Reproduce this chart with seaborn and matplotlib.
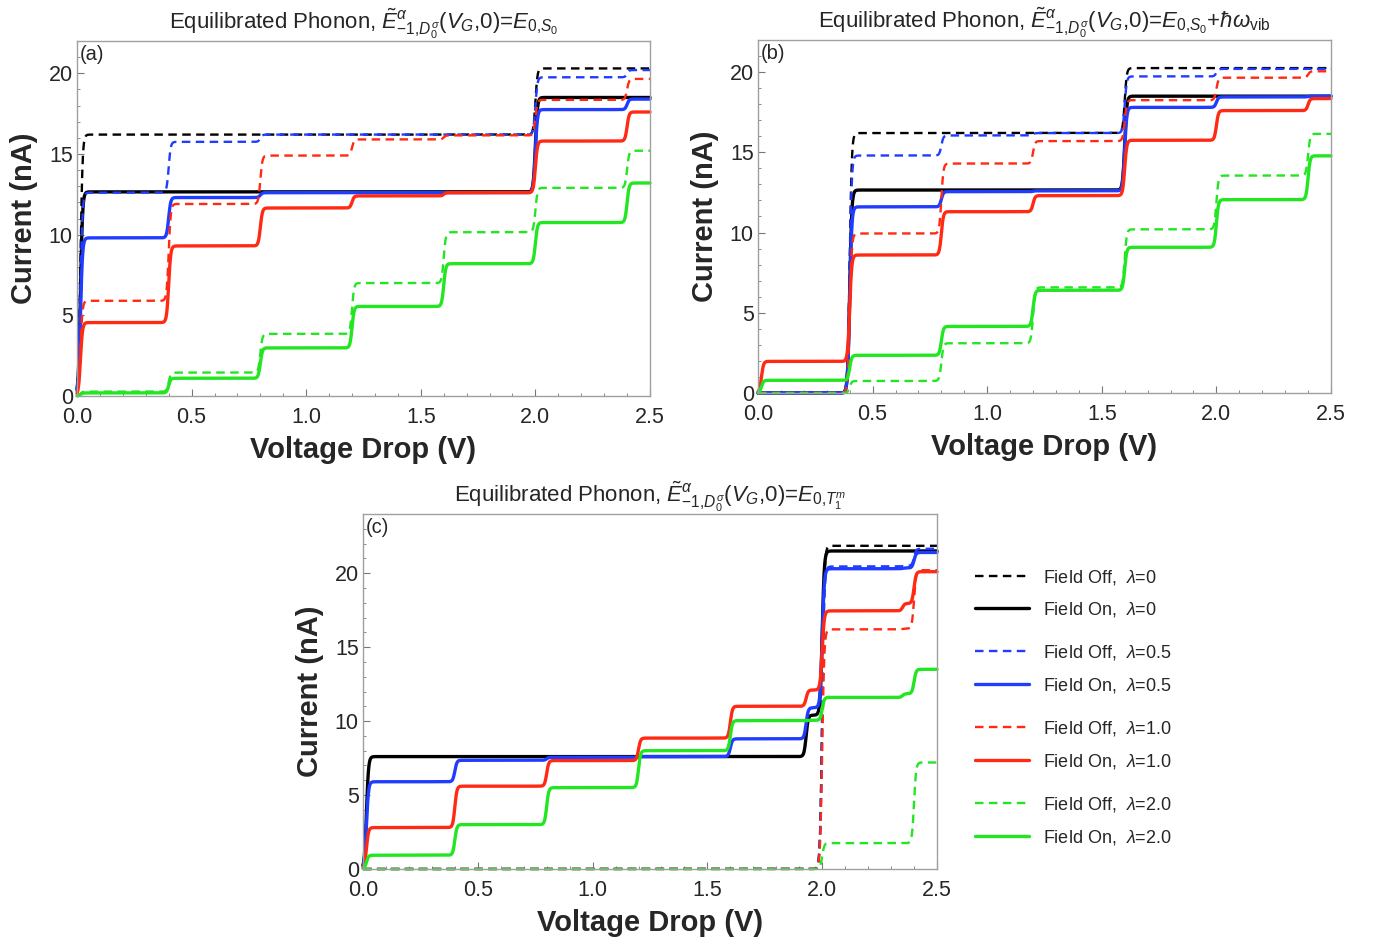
import numpy as np
import pandas as pd
import matplotlib
matplotlib.use("Agg")
import matplotlib.pyplot as plt
import seaborn as sns
from matplotlib.lines import Line2D
from matplotlib.ticker import MultipleLocator, FormatStrFormatter

# ---------------------------------------------------------------------------
# Bias thresholds (V) at which new transport channels open, per panel
STEPS_A = [0.015, 0.4, 0.8, 1.2, 1.6, 2.0, 2.4]
STEPS_B = [0.015, 0.4, 0.8, 1.2, 1.6, 2.0, 2.4]
STEPS_C = [0.015, 0.4, 0.8, 1.2, 1.6, 1.93, 2.0, 2.35, 2.4]

# Current plateau (nA) reached after each threshold
A_OFF_0 = [16.2, 16.2, 16.2, 16.2, 16.2, 20.3, 20.3]
A_ON_0 = [12.65, 12.65, 12.65, 12.65, 12.65, 18.5, 18.5]
A_OFF_05 = [12.6, 15.75, 16.2, 16.2, 16.2, 19.75, 20.2]
A_ON_05 = [9.8, 12.3, 12.6, 12.6, 12.6, 17.75, 18.4]
A_OFF_10 = [5.9, 11.9, 14.9, 15.9, 16.15, 18.35, 19.65]
A_ON_10 = [4.55, 9.3, 11.65, 12.4, 12.6, 15.8, 17.6]
A_OFF_20 = [0.27, 1.45, 3.85, 7.0, 10.15, 12.9, 15.2]
A_ON_20 = [0.19, 1.1, 2.98, 5.55, 8.2, 10.75, 13.2]

B_OFF_0 = [0.0, 16.2, 16.2, 16.2, 20.25, 20.25, 20.25]
B_ON_0 = [0.0, 12.65, 12.65, 12.65, 18.5, 18.5, 18.5]
B_OFF_05 = [0.0, 14.8, 16.05, 16.2, 19.73, 20.2, 20.2]
B_ON_05 = [0.0, 11.6, 12.55, 12.6, 17.8, 18.45, 18.5]
B_OFF_10 = [0.0, 9.94, 14.3, 15.7, 18.25, 19.65, 20.05]
B_ON_10 = [1.97, 8.6, 11.3, 12.3, 15.75, 17.6, 18.35]
B_OFF_20 = [0.0, 0.75, 3.1, 6.58, 10.2, 13.55, 16.15]
B_ON_20 = [0.79, 2.35, 4.15, 6.4, 9.08, 12.05, 14.78]

C_OFF_0 = [0.0, 0.0, 0.0, 0.0, 0.0, 0.0, 21.85, 21.85, 21.85]
C_ON_0 = [7.6, 7.6, 7.6, 7.6, 7.6, 10.4, 21.5, 21.5, 21.5]
C_OFF_05 = [0.0, 0.0, 0.0, 0.0, 0.0, 0.0, 20.45, 20.5, 21.65]
C_ON_05 = [5.9, 7.35, 7.55, 7.6, 8.8, 10.9, 20.3, 20.35, 21.4]
C_OFF_10 = [0.0, 0.0, 0.0, 0.0, 0.0, 0.0, 16.2, 16.25, 20.2]
C_ON_10 = [2.8, 5.6, 7.33, 8.85, 11.0, 12.1, 17.45, 17.95, 20.1]
C_OFF_20 = [0.0, 0.0, 0.0, 0.0, 0.0, 0.0, 1.75, 1.75, 7.2]
C_ON_20 = [0.93, 3.0, 5.5, 8.0, 10.03, 10.05, 11.6, 11.85, 13.5]

LAMBDAS = ["0", "0.5", "1.0", "2.0"]
FIELDS = ["Field Off", "Field On"]

TITLE_HEAD = r"Equilibrated Phonon, $\tilde{E}^{\alpha}_{-1{,}D_0^{\sigma}}(V_G{,}0)$="
TITLES = [
    TITLE_HEAD + r"$E_{0{,}S_0}$",
    TITLE_HEAD + r"$E_{0{,}S_0}$+$\hbar\omega_{\mathrm{vib}}$",
    TITLE_HEAD + r"$E_{0{,}T_1^m}$",
]
PANEL_TAGS = ["(a)", "(b)", "(c)"]
X_LABEL = "Voltage Drop (V)"
Y_LABEL = "Current (nA)"

PANELS = [
    (STEPS_A, [A_OFF_0, A_ON_0, A_OFF_05, A_ON_05, A_OFF_10, A_ON_10, A_OFF_20, A_ON_20]),
    (STEPS_B, [B_OFF_0, B_ON_0, B_OFF_05, B_ON_05, B_OFF_10, B_ON_10, B_OFF_20, B_ON_20]),
    (STEPS_C, [C_OFF_0, C_ON_0, C_OFF_05, C_ON_05, C_OFF_10, C_ON_10, C_OFF_20, C_ON_20]),
]
Y_MAX = [22, 22, 24]

# ---------------------------------------------------------------------------
sns.set_style("white")
plt.rcParams.update({
    "font.family": ["Liberation Sans", "DejaVu Sans"],
    "mathtext.fontset": "custom",
    "mathtext.rm": "Liberation Sans",
    "mathtext.it": "Liberation Sans:italic",
    "mathtext.bf": "Liberation Sans:bold",
    "mathtext.fallback": "stixsans",
})

COLORS = {"0": "#000000", "0.5": "#1f3cff", "1.0": "#ff2a14", "2.0": "#22e622"}
DASH = (3.6, 2.3)
LW = {"Field Off": 1.7, "Field On": 2.4}


def thermal_staircase(v, steps, levels, width=0.0045):
    """Sum of thermally broadened steps between successive plateaus."""
    inc = np.diff(np.concatenate([[0.0], levels]))
    out = np.zeros_like(v)
    for d, s in zip(inc, steps):
        out += d * 0.5 * (1.0 + np.tanh((v - s) / (2.0 * width)))
    return out


volt = np.linspace(0.0, 2.5, 2501)


def panel_frame(steps, series):
    rows = []
    for k, levels in enumerate(series):
        lam = LAMBDAS[k // 2]
        field = FIELDS[k % 2]
        cur = thermal_staircase(volt, steps, levels)
        rows.append(pd.DataFrame({"V": volt, "I": cur, "lam": lam, "field": field}))
    return pd.concat(rows, ignore_index=True)


W, H = 1385, 946
fig = plt.figure(figsize=(W / 100, H / 100), dpi=100)

# axes rectangles in pixels: left, top, right, bottom
boxes = [(77, 41, 650, 396), (758, 40, 1331, 393), (363, 514, 937, 869)]

for idx, ((steps, series), box) in enumerate(zip(PANELS, boxes)):
    l, t, r, b = box
    ax = fig.add_axes([l / W, 1 - b / H, (r - l) / W, (b - t) / H])
    df = panel_frame(steps, series)
    sns.lineplot(
        data=df, x="V", y="I", hue="lam", style="field", size="field",
        hue_order=LAMBDAS, style_order=FIELDS, size_order=FIELDS,
        palette=COLORS, dashes={"Field Off": DASH, "Field On": ""},
        sizes=LW, estimator=None, sort=False, legend=False, ax=ax,
    )
    for ln in ax.lines:
        ln.set_clip_on(False)
    ax.set_xlim(0, 2.5)
    ax.set_ylim(0, Y_MAX[idx])
    ax.xaxis.set_major_locator(MultipleLocator(0.5))
    ax.xaxis.set_minor_locator(MultipleLocator(0.1))
    ax.yaxis.set_major_locator(MultipleLocator(5))
    ax.yaxis.set_minor_locator(MultipleLocator(1))
    ax.xaxis.set_major_formatter(FormatStrFormatter("%.1f"))
    ax.tick_params(which="both", direction="in", top=False, right=False,
                   bottom=True, left=True, color="#777777", labelsize=15.5)
    ax.tick_params(axis="x", pad=8)
    ax.tick_params(axis="y", pad=3)
    ax.tick_params(which="major", length=5, width=0.8)
    ax.tick_params(which="minor", length=2.5, width=0.6)
    for sp in ax.spines.values():
        sp.set_color("#a0a0a0")
        sp.set_linewidth(1.0)
    ax.set_xlabel(X_LABEL, fontsize=21, fontweight="bold", labelpad=6)
    ax.set_ylabel(Y_LABEL, fontsize=21, fontweight="bold", labelpad=8)
    ax.set_title(TITLES[idx], fontsize=16, pad=5)
    ax.text(0.004, 0.99, PANEL_TAGS[idx], transform=ax.transAxes,
            ha="left", va="top", fontsize=14.5)

# Legend, grouped by coupling strength
group_centres = [593.5, 669, 745, 821]
for g, lam in enumerate(LAMBDAS):
    handles = [
        Line2D([], [], color=COLORS[lam], lw=LW["Field Off"], dashes=DASH),
        Line2D([], [], color=COLORS[lam], lw=LW["Field On"]),
    ]
    labels = [rf"Field Off,  $\lambda$={lam}", rf"Field On,  $\lambda$={lam}"]
    fig.legend(handles, labels, loc="center left",
               bbox_to_anchor=(975 / W, 1 - group_centres[g] / H),
               frameon=False, fontsize=13, handlelength=3.0,
               handletextpad=0.75, labelspacing=0.75, borderpad=0,
               borderaxespad=0)

fig.savefig("out.png", dpi=100)
